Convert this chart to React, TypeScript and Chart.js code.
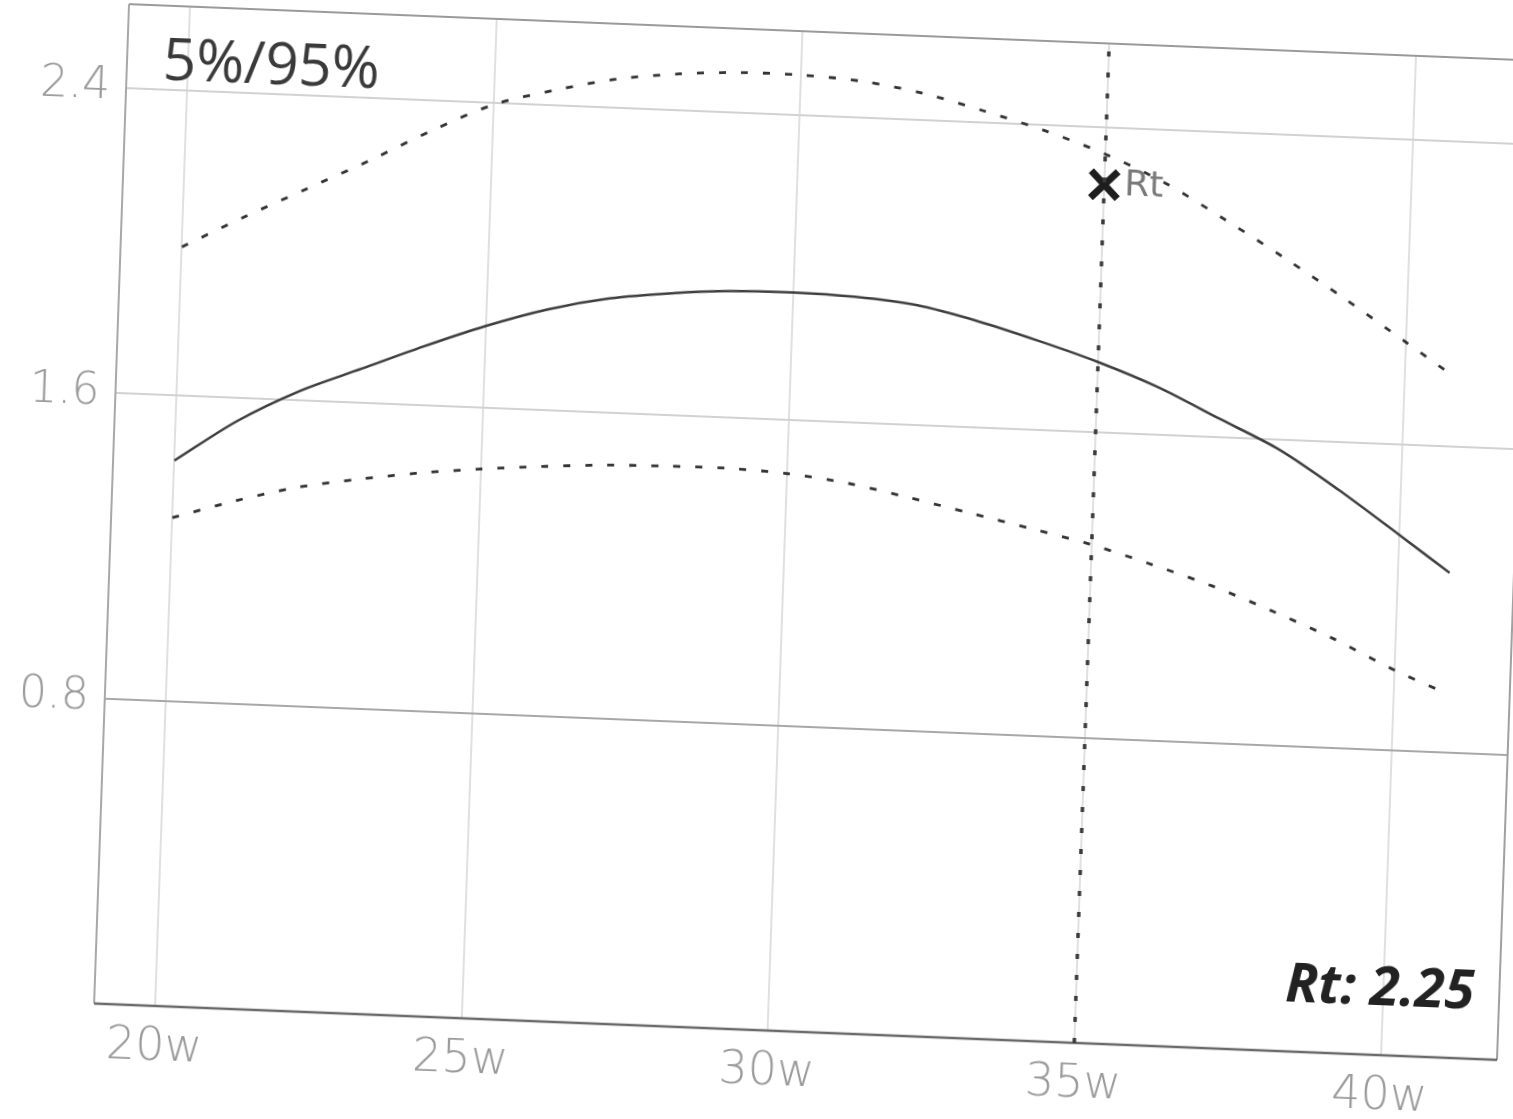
import React, { useEffect, useRef } from "react";
import { Chart, registerables } from "chart.js";

Chart.register(...registerables);

// Gestational week of each curve point
const weeks = [20, 21, 22, 23, 24, 25, 26, 27, 28, 29, 30, 31, 32, 33, 34, 35, 36, 37, 38, 39, 40, 40.85];
// 95th percentile curve
const p95 = [1.99, 2.075, 2.155, 2.235, 2.32, 2.395, 2.44, 2.475, 2.495, 2.505, 2.505, 2.495, 2.47, 2.43, 2.385, 2.33, 2.26, 2.17, 2.075, 1.975, 1.87, 1.78];
// median curve
const p50 = [1.43, 1.54, 1.625, 1.69, 1.755, 1.815, 1.865, 1.9, 1.92, 1.932, 1.935, 1.93, 1.915, 1.88, 1.835, 1.785, 1.725, 1.65, 1.575, 1.475, 1.365, 1.27];
// 5th percentile curve
const p5 = [1.28, 1.33, 1.372, 1.4, 1.423, 1.44, 1.453, 1.463, 1.467, 1.468, 1.46, 1.441, 1.41, 1.376, 1.342, 1.306, 1.26, 1.21, 1.15, 1.085, 1.01, 0.955];

const xTickWeeks = [20, 25, 30, 35, 40];
const yTickValues = [0, 0.8, 1.6, 2.4];
const xRange = [19, 41.9];
const yRange = [0, 2.62];

const rtWeek = 35;
const rtValue = 2.25;
const cornerLabel = "5%/95%";
const rtMarkerLabel = "Rt";
const rtValueText = "Rt: 2.25";

const CANVAS_W = 1560;
const CANVAS_H = 1119;

// slight tilt of the photographed chart
const tiltH = (2.3 * Math.PI) / 180;
const tiltV = (2.0 * Math.PI) / 180;
const tiltMatrix = `translate(0px, 3px) matrix(${Math.cos(tiltH)}, ${Math.sin(tiltH)}, ${-Math.sin(tiltV)}, ${Math.cos(tiltV)}, 0, 0)`;

const textPlugin = {
  id: "textPlugin",
  beforeDatasetsDraw(chart: any) {
    const { ctx, chartArea } = chart;
    const { left, right, top, bottom } = chartArea;
    ctx.save();
    ctx.lineCap = "butt";
    ctx.strokeStyle = "#9a9a9a";
    ctx.lineWidth = 2;
    ctx.beginPath();
    ctx.moveTo(left, top);
    ctx.lineTo(right, top);
    ctx.stroke();
    ctx.strokeStyle = "#a8a8a8";
    ctx.beginPath();
    ctx.moveTo(left, top);
    ctx.lineTo(left, bottom);
    ctx.stroke();
    ctx.strokeStyle = "#a0a0a0";
    ctx.beginPath();
    ctx.moveTo(right, top);
    ctx.lineTo(right, bottom);
    ctx.stroke();
    ctx.strokeStyle = "#6a6a6a";
    ctx.lineWidth = 2.5;
    ctx.beginPath();
    ctx.moveTo(left, bottom);
    ctx.lineTo(right, bottom);
    ctx.stroke();
    ctx.restore();
  },
  afterDraw(chart: any) {
    const { ctx, chartArea, scales } = chart;
    const { left, right, top, bottom } = chartArea;
    ctx.save();
    ctx.fillStyle = "#3a3a3a";
    ctx.font = '58px "Open Sans", "DejaVu Sans", sans-serif';
    ctx.textAlign = "left";
    ctx.textBaseline = "alphabetic";
    ctx.fillText(cornerLabel, left + 36, top + 74);

    const px = scales.x.getPixelForValue(rtWeek);
    const py = scales.y.getPixelForValue(rtValue);
    ctx.fillStyle = "#7a7a7a";
    ctx.font = '36px "DejaVu Sans", sans-serif';
    ctx.textBaseline = "middle";
    ctx.fillText(rtMarkerLabel, px + 20, py);

    ctx.fillStyle = "#222";
    ctx.font = 'italic bold 54px "Open Sans", "Noto Sans", sans-serif';
    ctx.textAlign = "right";
    ctx.textBaseline = "alphabetic";
    ctx.fillText(rtValueText, right - 25, bottom - 50);
    ctx.restore();
  },
};

export default function App() {
  const canvasRef = useRef<HTMLCanvasElement | null>(null);

  useEffect(() => {
    const canvas = canvasRef.current;
    if (!canvas) return;
    const toPts = (vals: number[]) => weeks.map((w, i) => ({ x: w, y: vals[i] }));
    const chart = new Chart(canvas, {
      type: "line",
      data: {
        datasets: [
          {
            label: "95%",
            data: toPts(p95),
            borderColor: "#333",
            borderWidth: 2.8,
            borderDash: [7, 15],
            pointRadius: 0,
            tension: 0.3,
            fill: false,
          },
          {
            label: "50%",
            data: toPts(p50),
            borderColor: "#3e3e3e",
            borderWidth: 2.5,
            pointRadius: 0,
            tension: 0.3,
            fill: false,
          },
          {
            label: "5%",
            data: toPts(p5),
            borderColor: "#333",
            borderWidth: 2.8,
            borderDash: [7, 15],
            pointRadius: 0,
            tension: 0.3,
            fill: false,
          },
          {
            label: "Rt line",
            data: [
              { x: rtWeek, y: yRange[0] },
              { x: rtWeek, y: yRange[1] },
            ],
            borderColor: "#3a3a3a",
            borderWidth: 3.5,
            borderDash: [5, 16],
            pointRadius: 0,
            fill: false,
          },
          {
            label: "Rt",
            data: [{ x: rtWeek, y: rtValue }],
            showLine: false,
            pointStyle: "crossRot",
            pointRadius: 19,
            pointBorderWidth: 7,
            pointBorderColor: "#1e1e1e",
            pointBackgroundColor: "#1e1e1e",
          },
        ],
      },
      options: {
        responsive: false,
        animation: false,
        devicePixelRatio: 1,
        layout: { padding: { top: 29, right: CANVAS_W - 1515, left: 0, bottom: 0 } },
        plugins: {
          legend: { display: false },
          tooltip: { enabled: false },
        },
        scales: {
          x: {
            type: "linear",
            min: xRange[0],
            max: xRange[1],
            afterBuildTicks: (scale: any) => {
              scale.ticks = xTickWeeks.map((v) => ({ value: v }));
            },
            afterFit: (scale: any) => {
              scale.height = CANVAS_H - 1029;
              scale.paddingLeft = 0;
              scale.paddingRight = 0;
            },
            border: { display: false },
            grid: {
              color: "#e0e0e0",
              lineWidth: 2,
              drawTicks: false,
            },
            ticks: {
              padding: 14,
              color: "#9a9a9a",
              font: { family: '"DejaVu Sans", sans-serif', size: 46, weight: "200" as any },
              maxRotation: 0,
              callback: (v: any) => `${v}w`,
            },
          },
          y: {
            type: "linear",
            min: yRange[0],
            max: yRange[1],
            afterBuildTicks: (scale: any) => {
              scale.ticks = yTickValues.map((v) => ({ value: v }));
            },
            afterFit: (scale: any) => {
              scale.width = 111;
              scale.paddingTop = 0;
              scale.paddingBottom = 0;
            },
            border: { display: false },
            grid: {
              color: (c: any) =>
                c.tick && c.tick.value === 0
                  ? "rgba(0,0,0,0)"
                  : c.tick && Math.abs(c.tick.value - 0.8) < 1e-6
                  ? "#a8a8a8"
                  : "#d2d2d2",
              lineWidth: 2,
              drawTicks: false,
            },
            ticks: {
              padding: 16,
              color: "#9a9a9a",
              font: { family: '"DejaVu Sans", sans-serif', size: 44, weight: "200" as any },
              callback: (v: any) => (Number(v) === 0 ? "" : Number(v).toFixed(1)),
            },
          },
        },
      },
      plugins: [textPlugin],
    });
    return () => chart.destroy();
  }, []);

  return (
    <div
      style={{
        position: "fixed",
        left: 0,
        top: 0,
        width: 1513,
        height: 1119,
        overflow: "hidden",
        background: "#ffffff",
      }}
    >
      <canvas
        ref={canvasRef}
        width={CANVAS_W}
        height={CANVAS_H}
        style={{
          width: CANVAS_W,
          height: CANVAS_H,
          display: "block",
          transform: tiltMatrix,
          transformOrigin: "813px 529px",
        }}
      />
    </div>
  );
}
